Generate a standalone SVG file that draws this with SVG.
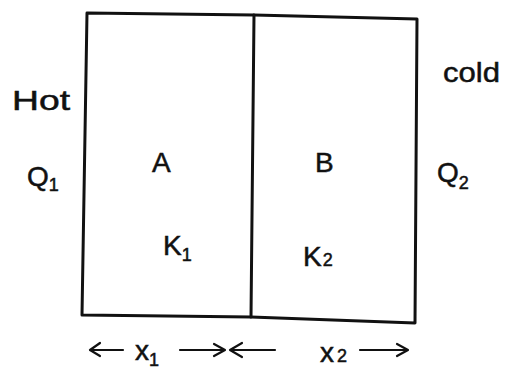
<svg xmlns="http://www.w3.org/2000/svg" width="507" height="374" viewBox="0 0 507 374">
<defs>
<style>
.frame{fill:none;stroke:#111;stroke-width:3;stroke-linecap:round;stroke-linejoin:round}
.arr{fill:none;stroke:#111;stroke-width:2.2;stroke-linecap:round;stroke-linejoin:round}
.t{font-family:"Liberation Sans","DejaVu Sans",sans-serif;fill:#111;stroke:#111;stroke-width:0.5;font-size:28px}
.s{font-size:18px}
</style>
</defs>
<rect width="507" height="374" fill="#fff"/>
<g id="box" class="frame">
<path d="M87,13 L254,15 L417,19 L415,323 L251,317 L82,315 Z"/>
<path d="M254,15 L251,317"/>
</g>
<g id="A"><text class="t" x="152" y="172">A</text></g>
<g id="B"><text class="t" x="315" y="172">B</text></g>
<g id="K1"><text class="t" x="163" y="255">K<tspan class="s" dy="6">1</tspan></text></g>
<g id="K2"><text class="t" x="303" y="266">K<tspan class="s" dx="1">2</tspan></text></g>
<g id="hot">
<text class="t" x="12" y="110" textLength="58" lengthAdjust="spacingAndGlyphs">Hot</text>
<text class="t" x="27" y="186">Q<tspan class="s" dy="5">1</tspan></text>
</g>
<g id="cold">
<text class="t" x="443" y="82" textLength="57" lengthAdjust="spacingAndGlyphs">cold</text>
<text class="t" x="437" y="182">Q<tspan class="s" dy="7">2</tspan></text>
</g>
<g id="connectors" class="arr">
<path d="M92,350 L123,350 M100,343 L90,350 L100,356"/>
<path d="M180,350 L222,350 M214,344 L225,350 L214,356"/>
<path d="M232,350 L275,350 M242,343 L230,350 L242,357"/>
<path d="M360,350 L405,350 M397,344 L408,350 L397,356"/>
</g>
<g id="dims">
<text class="t" x="135" y="360">x<tspan class="s" dy="6">1</tspan></text>
<text class="t" x="320" y="362">x<tspan class="s" dx="3">2</tspan></text>
</g>
</svg>
